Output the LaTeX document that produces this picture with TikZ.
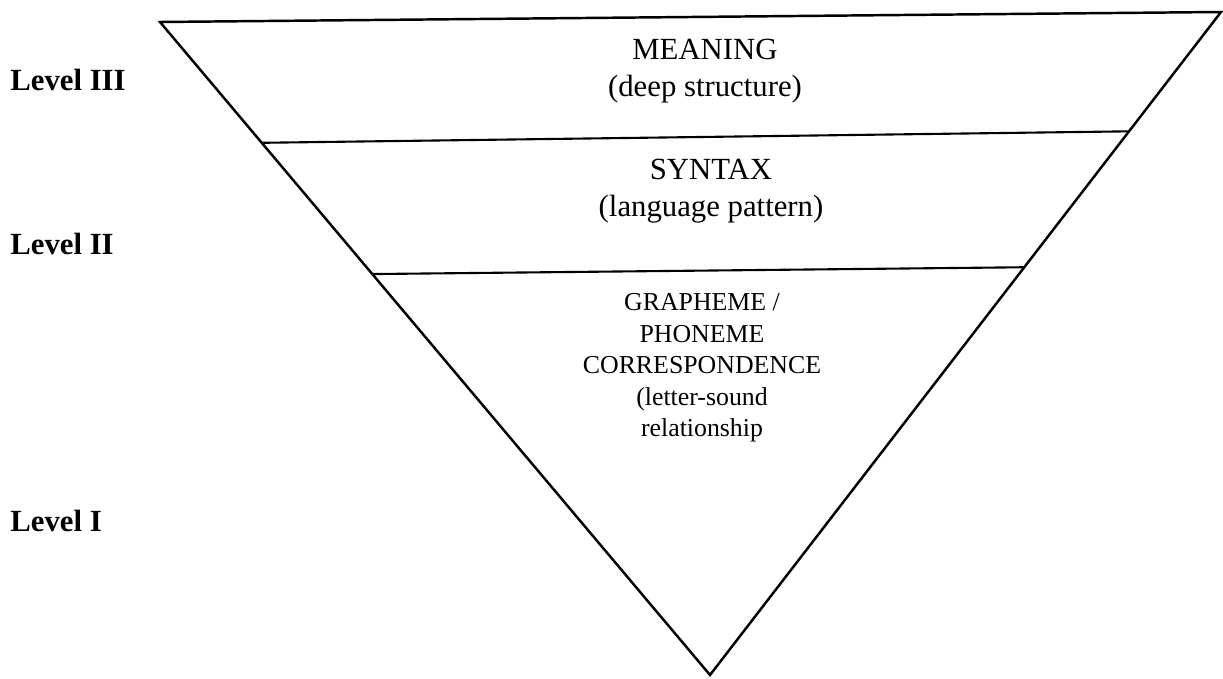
\documentclass[tikz,border=0pt]{standalone}
\usepackage{fontspec}
\setmainfont{Liberation Serif}
\usetikzlibrary{calc}
\begin{document}
\begin{tikzpicture}[
    bigtxt/.style={align=center, font=\fontsize{17.5}{21}\selectfont},
    smalltxt/.style={align=center, font=\fontsize{14.7}{17.9}\selectfont},
    lvl/.style={anchor=west, inner sep=0pt, font=\fontsize{17.5}{21}\selectfont\bfseries}]
        \useasboundingbox (0,0) rectangle (24.46,13.56);
        
        % Triangolo
        \coordinate (tl) at (3.2,13.12);
        \coordinate (tr) at (24.42,13.32);
        \coordinate (ap) at (14.2,0.06);
        \draw[line width=1.4pt] (tl) -- (tr) -- (ap) -- cycle;
        
        % Divisori
        \draw[line width=1.2pt] ($(tl)!0.185!(ap)$) -- ($(tr)!0.18!(ap)$);
        \draw[line width=1.2pt] ($(tl)!0.386!(ap)$) -- ($(tr)!0.385!(ap)$);
        
        % Testi
        \node[bigtxt] (meaning) at (14.1,12.14) {MEANING\\(deep structure)};
        \node[bigtxt] (syntax) at (14.22,9.74) {SYNTAX\\(language pattern)};
        \node[smalltxt] (grapheme) at (14.04,6.2) {GRAPHEME /\\PHONEME\\CORRESPONDENCE\\(letter-sound\\relationship};
        
        % Livelli
        \node[lvl] (lev3) at (0.2,11.96) {Level III};
        \node[lvl] (lev2) at (0.2,8.68) {Level II};
        \node[lvl] (lev1) at (0.2,3.14) {Level I};
        
    \end{tikzpicture}
\end{document}
